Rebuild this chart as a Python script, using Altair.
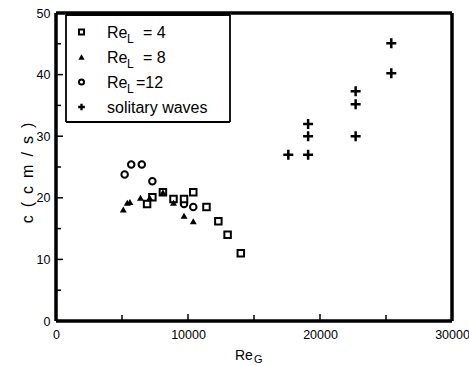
import altair as alt
import pandas as pd

# Wave speed c (cm/s) against gas Reynolds number Re_G
re4_x = [6900, 7300, 8100, 8900, 9700, 10400, 11400, 12300, 13000, 14000]
re4_c = [19.0, 20.1, 20.9, 19.8, 19.8, 20.9, 18.5, 16.2, 14.0, 11.0]

re8_x = [5100, 5400, 5600, 6400, 7100, 8100, 8900, 9700, 10400]
re8_c = [18.1, 19.2, 19.3, 20.0, 20.0, 20.9, 19.2, 17.1, 16.2]

re12_x = [5200, 5700, 6500, 7300, 9700, 10400]
re12_c = [23.8, 25.4, 25.4, 22.7, 19.0, 18.5]

sol_x = [17600, 19100, 19100, 19100, 22700, 22700, 22700, 25400, 25400]
sol_c = [27.0, 27.0, 30.0, 32.0, 30.0, 35.2, 37.3, 40.2, 45.1]

x_major = [0, 10000, 20000, 30000]
x_minor = [5000, 15000, 25000]
y_major = [0, 10, 20, 30, 40, 50]
y_minor = [5, 15, 25, 35, 45]

W, H = 396, 308
FONT = "Liberation Sans"
CROSS = "M-1,0H1M0,-1V1"

xs = alt.Scale(domain=[0, 30000], nice=False)
ys = alt.Scale(domain=[0, 50], nice=False)

x_axis = alt.Axis(values=x_major, format="d", title=None, grid=False, domain=False,
                  ticks=False, labelPadding=7, labelFont=FONT, labelFontSize=12.5,
                  labelColor="black", labelFlush=False)
y_axis = alt.Axis(values=y_major, title=None, grid=False, domain=False,
                  ticks=False, labelPadding=6, labelFont=FONT, labelFontSize=12.5,
                  labelColor="black")


def series(xv, cv, shape, size, filled, sw):
    df = pd.DataFrame({"Re_G": xv, "c": cv})
    return alt.Chart(df).mark_point(
        shape=shape, size=size, filled=filled, color="black",
        strokeWidth=sw, opacity=1, fill="black" if filled else "white",
    ).encode(
        x=alt.X("Re_G:Q", scale=xs, axis=x_axis),
        y=alt.Y("c:Q", scale=ys, axis=y_axis),
    )


def xticks(vals, length):
    return alt.Chart(pd.DataFrame({"v": vals})).mark_rule(
        color="black", strokeWidth=1.5
    ).encode(x=alt.X("v:Q", scale=xs), y=alt.value(H), y2=alt.value(H - length))


def yticks(vals, length):
    return alt.Chart(pd.DataFrame({"v": vals})).mark_rule(
        color="black", strokeWidth=1.5
    ).encode(y=alt.Y("v:Q", scale=ys), x=alt.value(0), x2=alt.value(length))


def text(s, x, y, size, angle=0, align="left", baseline="alphabetic"):
    return alt.Chart(pd.DataFrame({"k": [0]})).mark_text(
        text=s, font=FONT, fontSize=size, color="black", align=align,
        baseline=baseline, angle=angle,
    ).encode(x=alt.value(x), y=alt.value(y))


def symbol(shape, size, filled, sw, x, y):
    return alt.Chart(pd.DataFrame({"k": [0]})).mark_point(
        shape=shape, size=size, filled=filled, color="black", strokeWidth=sw,
        opacity=1, fill="black" if filled else "white",
    ).encode(x=alt.value(x), y=alt.value(y))


def outline(x0, x1, y0, y1, w, color):
    """Outline of a rectangle drawn as four rules of width w."""
    segs = pd.DataFrame({
        "a": [x0, x0, x0, x1], "b": [x1, x1, x0, x1],
        "c": [y0, y1, y0, y0], "d": [y0, y1, y1, y1],
    })
    return alt.Chart(segs).mark_rule(color=color, strokeWidth=w).encode(
        x=alt.X("a:Q", scale=None), x2="b:Q",
        y=alt.Y("c:Q", scale=None), y2="d:Q",
    )


layers = [
    xticks(x_major, 7), xticks(x_minor, 6),
    yticks(y_major, 7), yticks(y_minor, 5),
    series(re12_x, re12_c, "circle", 42, False, 2.0),
    series(re4_x, re4_c, "square", 42, False, 2.0),
    series(re8_x, re8_c, "triangle-up", 48, True, 1.4),
    series(sol_x, sol_c, CROSS, 100, False, 2.5),
]

# key box in the upper-left corner of the plot
layers.append(
    alt.Chart(pd.DataFrame({"k": [0]})).mark_rect(color="white", opacity=1).encode(
        x=alt.value(10), x2=alt.value(174), y=alt.value(2), y2=alt.value(109)
    )
)

key_rows = [
    ("square", 26, False, 2.0, "Re", "L", "= 4", 87),
    ("triangle-up", 38, True, 1.4, "Re", "L", "= 8", 87),
    ("circle", 26, False, 2.0, "Re", "L", "=12", 80),
    (CROSS, 45, False, 2.3, "solitary waves", "", "", 0),
]
for i, (shp, sz, fl, sw, main, sub, rest, rest_x) in enumerate(key_rows):
    yrow = 19 + 25 * i
    layers.append(symbol(shp, sz, fl, sw, 25.5, yrow))
    layers.append(text(main, 51, yrow + 6, 16))
    if sub:
        layers.append(text(sub, 71, yrow + 11, 12))
    if rest:
        layers.append(text(rest, rest_x, yrow + 6, 16))

# axis titles
sp = "\u2002"
y_title = sp.join(["c", "(", "c", "m", "/", "s", ")"])
layers.append(text(y_title, -28, 160, 16, angle=270, align="center", baseline="middle"))
layers.append(text("Re", 179, 347, 14))
layers.append(text("G", 198, 350, 11))

plot = alt.layer(*layers).properties(width=W, height=H)

# frame and key border drawn in an independent layer on top
chart = alt.layer(
    plot,
    outline(10, 174, 2, 109, 1.8, "black"),
    outline(0, W, 0, H, 3.5, "black"),
).resolve_scale(x="independent", y="independent").properties(
    background="white",
    autosize=alt.AutoSizeParams(type="none"),
    padding={"left": 56, "top": 13, "right": 17, "bottom": 45},
).configure_view(
    strokeWidth=0
)

chart.save("out.html", embed_options={"renderer": "svg", "actions": False})
